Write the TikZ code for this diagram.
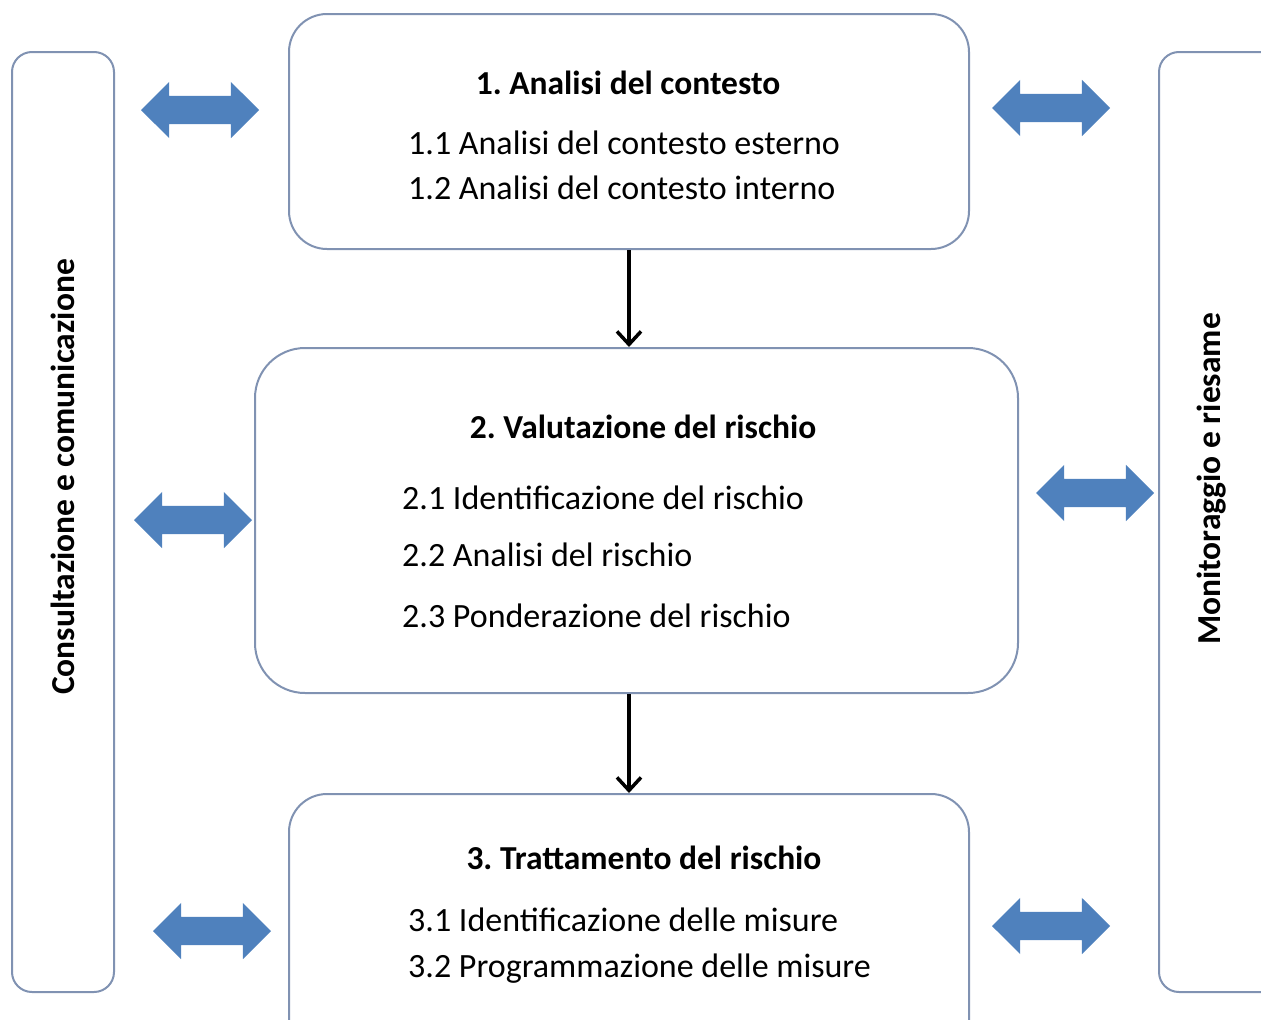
\documentclass[tikz,border=0pt]{standalone}
\usepackage{fontspec}
\setmainfont{Carlito}
\usetikzlibrary{shapes.arrows,arrows.meta}
\definecolor{boxline}{RGB}{128,146,178}
\definecolor{arrowblue}{RGB}{79,129,189}
\frenchspacing
\tikzset{
  phase/.style={draw=boxline,line width=2pt,rounded corners=38pt,inner sep=0pt},
  sidebar/.style={draw=boxline,line width=2pt,rounded corners=20pt,inner sep=0pt},
  link/.style={fill=arrowblue,double arrow,double arrow head extend=14pt,
    minimum height=118pt,inner xsep=0pt,inner ysep=14pt},
  title/.style={font=\bfseries\fontsize{33.5}{40}\selectfont},
  item/.style={font=\fontsize{34}{40}\selectfont,anchor=base west,inner xsep=0pt},
  flow/.style={line width=3.5pt,-{Straight Barb[length=13pt,width=24pt]}}
}

\begin{document}
\begin{tikzpicture}[x=1pt,y=-1pt]
\useasboundingbox (0,0) rectangle (1261,1020);
\clip (0,0) rectangle (1261,1020);
% side bars
\node[sidebar,minimum width=102pt,minimum height=940pt] (consult) at (63,522) {};
\node[sidebar,minimum width=140pt,minimum height=940pt] (monitor) at (1229,522) {};
\node[title,rotate=90] (consultlbl) at (63,477) {Consultazione e comunicazione};
\node[title,rotate=90] (monitorlbl) at (1212,479) {Monitoraggio e riesame};
% phases
\node[phase,minimum width=680pt,minimum height=235pt] (analisi) at (629,131.5) {};
\node[phase,rounded corners=50pt,minimum width=763pt,minimum height=345pt] (valutazione) at (636.5,520.5) {};
\node[phase,minimum width=680pt,minimum height=300pt] (trattamento) at (629,944) {};
\node[title] (analisit) at (628,83) {1. Analisi del contesto};
\node[item] (a1) at (408,154) {1.1 Analisi del contesto esterno};
\node[item] (a2) at (408,199) {1.2 Analisi del contesto interno};
\node[title] (valutaziont) at (643,427) {2. Valutazione del rischio};
\node[item] (v1) at (402,509) {2.1 Identificazione del rischio};
\node[item] (v2) at (402,566) {2.2 Analisi del rischio};
\node[item] (v3) at (402,627) {2.3 Ponderazione del rischio};
\node[title] (trattamentot) at (644,858) {3. Trattamento del rischio};
\node[item] (t1) at (408,931) {3.1 Identificazione delle misure};
\node[item] (t2) at (408,977) {3.2 Programmazione delle misure};
% links
\node[link] (la) at (200,110) {};
\node[link] (ra) at (1051,108) {};
\node[link] (lv) at (193,520) {};
\node[link] (rv) at (1095,493) {};
\node[link] (lt) at (212,931) {};
\node[link] (rt) at (1051,926) {};
\draw[flow] (analisi) -- (analisi |- valutazione.north);
\draw[flow] (valutazione.south -| analisi) -- (trattamento);
\end{tikzpicture}
\end{document}
